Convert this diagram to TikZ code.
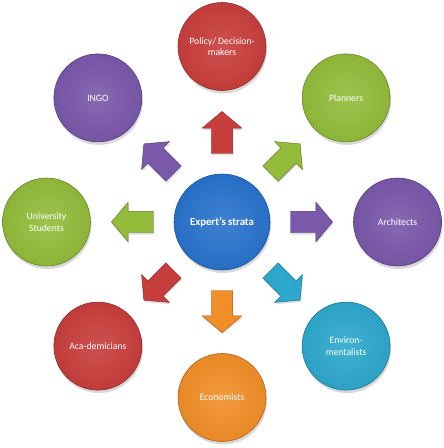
\documentclass[tikz,border=0pt]{standalone}
\usepackage{fontspec}
\setmainfont{Carlito}
\usepackage{tikz}
\usetikzlibrary{shapes.arrows,shadows}
\definecolor{EXblue}{RGB}{40,115,205}
\definecolor{EXred}{RGB}{200,62,60}
\definecolor{EXgreen}{RGB}{146,188,58}
\definecolor{EXpurple}{RGB}{122,88,170}
\definecolor{EXaqua}{RGB}{45,168,204}
\definecolor{EXorange}{RGB}{242,142,40}
\tikzset{
  member/.style={circle,minimum size=2.64cm,inner sep=1pt,align=center,
                 text=white,font=\fontsize{8.3}{9.8}\selectfont,
                 draw=#1!70!black,line width=0.5pt,
                 inner color=#1!90!white,outer color=#1!96!black,
                 drop shadow={opacity=0.3,shadow xshift=0.3mm,shadow yshift=-0.9mm}},
  hubnode/.style={member=#1,minimum size=2.88cm,
                 font=\fontsize{9.2}{11}\selectfont\bfseries},
  blk/.style={single arrow,draw=#1!65!black,line width=0.4pt,fill=#1,
              inner xsep=0pt,inner ysep=0.315cm,minimum height=1.26cm,
              single arrow head extend=0.27cm,single arrow tip angle=100,
              drop shadow={opacity=0.25,shadow xshift=0.2mm,shadow yshift=-0.6mm}}
}
\begin{document}
\begin{tikzpicture}
  \useasboundingbox (-6.66,-6.78) rectangle (6.66,6.66);
  \node[hubnode=EXblue] (hub) at (0,0) {Expert’s strata};
  % the eight groups round the hub
  \node[member=EXred] (pol) at (90:5.265) {Policy/ Decision-\\makers};
  \node[member=EXgreen] (plan) at (45:5.265) {Planners};
  \node[member=EXpurple] (arch) at (0:5.265) {Architects};
  \node[member=EXaqua] (env) at (-45:5.265) {Environ-\\mentalists};
  \node[member=EXorange] (eco) at (-90:5.265) {Economists};
  \node[member=EXred] (aca) at (-135:5.265) {Aca-demicians};
  \node[member=EXgreen] (uni) at (180:5.265) {University\\Students};
  \node[member=EXpurple] (ingo) at (135:5.265) {INGO};
  % block arrows out of the hub
  \node[blk=EXred,rotate=90] (apol) at (90:2.55) {};
  \node[blk=EXgreen,rotate=45] (aplan) at (45:2.55) {};
  \node[blk=EXpurple] (aarch) at (0:2.55) {};
  \node[blk=EXaqua,rotate=-45] (aenv) at (-45:2.55) {};
  \node[blk=EXorange,rotate=-90] (aeco) at (-90:2.55) {};
  \node[blk=EXred,rotate=-135] (aaca) at (-135:2.55) {};
  \node[blk=EXgreen,rotate=180] (auni) at (180:2.55) {};
  \node[blk=EXpurple,rotate=135] (aingo) at (135:2.55) {};
\end{tikzpicture}
\end{document}
